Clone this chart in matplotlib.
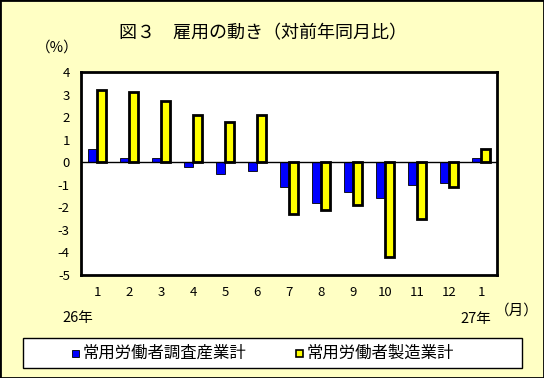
import matplotlib
matplotlib.use("Agg")
import matplotlib.pyplot as plt
from matplotlib.patches import Rectangle
import numpy as np

plt.rcParams['font.family'] = ['Noto Sans CJK JP', 'DejaVu Sans']

months = ["1", "2", "3", "4", "5", "6", "7", "8", "9", "10", "11", "12", "1"]
all_industry = [0.6, 0.2, 0.2, -0.2, -0.5, -0.4, -1.1, -1.8, -1.3, -1.6, -1.0, -0.9, 0.2]
manufacturing = [3.2, 3.1, 2.7, 2.1, 1.8, 2.1, -2.3, -2.1, -1.9, -4.2, -2.5, -1.1, 0.6]
yticks = [4, 3, 2, 1, 0, -1, -2, -3, -4, -5]
series_names = ["常用労働者調査産業計", "常用労働者製造業計"]

bg = "#FFFFC4"
W, H = 544, 378
fig = plt.figure(figsize=(W / 100, H / 100), dpi=100, facecolor=bg)
fig.patches.append(Rectangle((0, 0), 1, 1, transform=fig.transFigure, fill=False,
                             edgecolor="black", linewidth=2))

ax = fig.add_axes([81 / W, 1 - 275 / H, (497 - 81) / W, (275 - 72) / H])
ax.set_facecolor("white")
x = np.arange(len(months))
bw = 0.27
ax.bar(x - bw / 2 - 0.005, all_industry, bw, color="#0000FF", edgecolor="black", linewidth=0.6)
ax.bar(x + bw / 2 + 0.005, manufacturing, bw, color="#FFFF00", edgecolor="black", linewidth=2)
ax.axhline(0, color="black", linewidth=1)
ax.set_xlim(-0.5, len(months) - 0.5)
ax.set_ylim(-5, 4)
ax.set_yticks(yticks)
ax.set_yticklabels([str(v) for v in yticks], fontsize=9.5)
ax.set_xticks(x)
ax.set_xticklabels(months, fontsize=9.5)
ax.tick_params(axis="both", length=0, pad=8)
for s in ax.spines.values():
    s.set_linewidth(2)

fig.text(263 / W, 1 - 33 / H, "図３　雇用の動き（対前年同月比）", ha="center", va="center", fontsize=13)
fig.text(57 / W, 1 - 48 / H, "（%）", ha="center", va="center", fontsize=10.5)
fig.text(78 / W, 1 - 318 / H, "26年", ha="center", va="center", fontsize=10.5)
fig.text(476 / W, 1 - 319 / H, "27年", ha="center", va="center", fontsize=10.5)
fig.text(517 / W, 1 - 311 / H, "（月）", ha="center", va="center", fontsize=10.5)

# legend box
fig.patches.append(Rectangle((23 / W, 1 - 368 / H), (522 - 23) / W, 30 / H,
                             transform=fig.transFigure, facecolor="white",
                             edgecolor="black", linewidth=1))
fig.patches.append(Rectangle((72 / W, 1 - 357 / H), 7 / W, 7 / H, transform=fig.transFigure,
                             facecolor="#0000FF", edgecolor="black", linewidth=0.6))
fig.text(83 / W, 1 - 353 / H, series_names[0], ha="left", va="center", fontsize=11.8)
fig.patches.append(Rectangle((296 / W, 1 - 357 / H), 7 / W, 7 / H, transform=fig.transFigure,
                             facecolor="#FFFF00", edgecolor="black", linewidth=1.2))
fig.text(307 / W, 1 - 353 / H, series_names[1], ha="left", va="center", fontsize=11.8)

fig.savefig("out.png", dpi=100, facecolor=bg)
